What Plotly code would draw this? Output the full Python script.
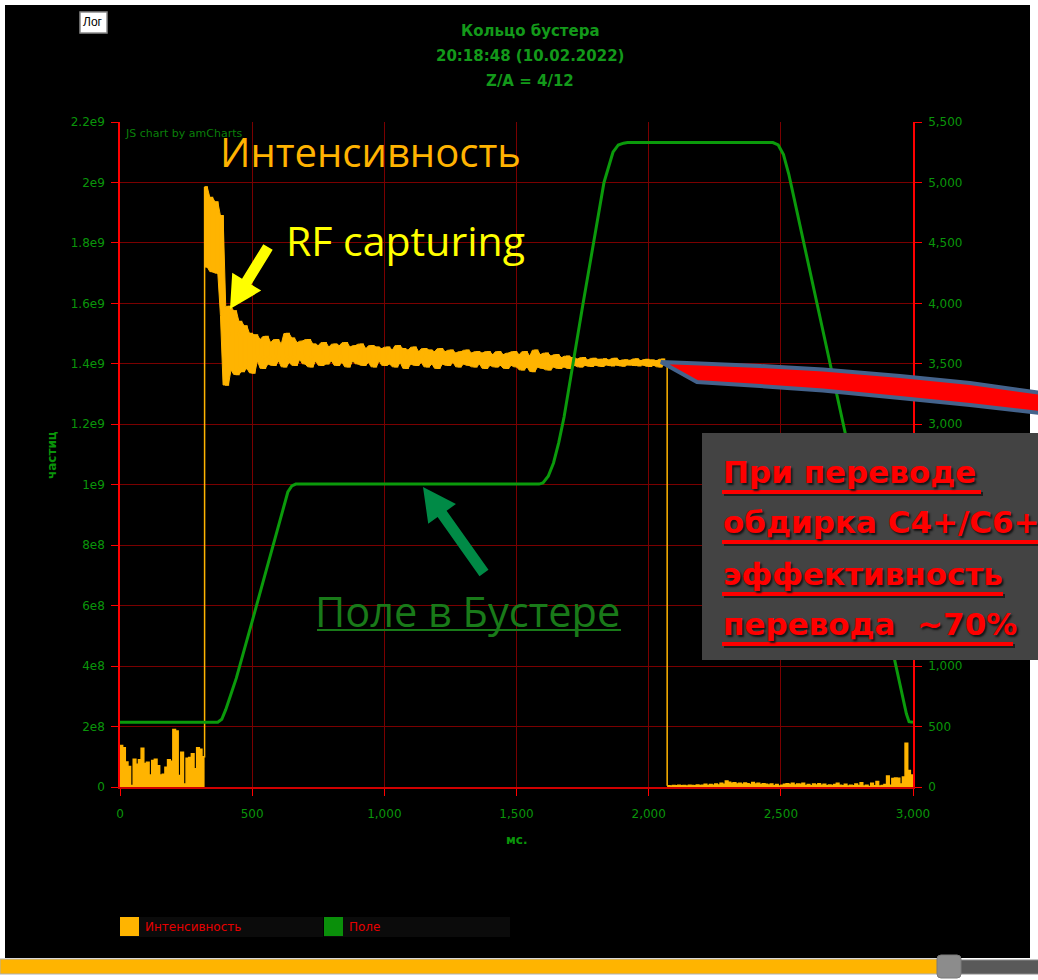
import plotly.graph_objects as go

# ---------------------------------------------------------------- data
# beam intensity, sampled every 10 ms, in millions of particles
time_ms = list(range(0, 3001, 10))
intensity_m = [
    # 0 .. 310 ms (before injection)
    137, 130, 83, 68, 5, 92, 75, 90, 128, 78, 82, 40, 88, 92, 70, 40,
    42, 65, 90, 85, 190, 185, 38, 115, 10, 95, 98, 110, 60, 130, 125, 100,
    # 320 .. 1000 ms
    1985, 1720, 1950, 1705, 1935, 1700, 1890, 1560, 1330, 1590, 1380, 1575,
    1365, 1540, 1375, 1525, 1385, 1500, 1370, 1495, 1410, 1480, 1385, 1490,
    1400, 1470, 1395, 1480, 1410, 1465, 1390, 1500, 1405, 1485, 1395, 1470,
    1415, 1475, 1400, 1480, 1390, 1465, 1410, 1460, 1395, 1470, 1400, 1455,
    1410, 1465, 1395, 1460, 1405, 1470, 1390, 1455, 1410, 1460, 1400, 1465,
    1395, 1450, 1405, 1460, 1390, 1455, 1410, 1450, 1395,
    # 1010 .. 1500 ms
    1455, 1400, 1445, 1390, 1460, 1405, 1450, 1385, 1445, 1400, 1455, 1395,
    1440, 1405, 1450, 1390, 1445, 1400, 1440, 1385, 1450, 1400, 1440, 1395,
    1445, 1405, 1435, 1390, 1440, 1400, 1445, 1395, 1435, 1390, 1440, 1400,
    1435, 1385, 1440, 1395, 1430, 1390, 1440, 1395, 1430, 1385, 1435, 1395,
    1440, 1390,
    # 1510 .. 1700 ms
    1430, 1380, 1440, 1390, 1425, 1375, 1445, 1390, 1430, 1385, 1435, 1380,
    1425, 1390, 1430, 1385, 1420, 1390, 1425, 1385,
    # 1710 .. 2060 ms
    1420, 1395, 1415, 1390, 1420, 1395, 1412, 1392, 1418, 1396, 1414, 1392,
    1416, 1397, 1412, 1394, 1418, 1396, 1410, 1393, 1413, 1397, 1411, 1395,
    1416, 1394, 1410, 1396, 1414, 1392, 1412, 1395, 1410, 1390, 1415, 1400,
    # 2070 .. 3000 ms (after extraction)
    4, 3, 5, 4, 6, 4, 5, 3, 6, 5, 4, 7, 5, 6, 9, 5, 8, 6, 10, 7, 12, 9,
    20, 16, 12, 14, 10, 12, 9, 13, 11, 8, 15, 10, 12, 8, 11, 9, 7, 10, 4,
    8, 3, 6, 9, 11, 8, 12, 7, 10, 9, 12, 5, 8, 4, 10, 7, 11, 6, 9, 4, 7,
    5, 8, 12, 6, 4, 9, 3, 6, 4, 10, 5, 14, 3, 6, 2, 12, 4, 18, 3, 5, 8,
    36, 6, 28, 30, 29, 10, 33, 145, 55, 40, 35,
]
assert len(time_ms) == len(intensity_m)

# booster magnetic field
field_t = [0, 370, 385, 400, 420, 440, 500, 550, 600, 620, 635, 650, 665,
           1585, 1600, 1620, 1640, 1660, 1680, 1752, 1831, 1865, 1885, 1905,
           1920, 2470, 2490, 2510, 2530, 2550, 2960, 2975, 2985, 3000]
field_v = [535, 535, 560, 640, 770, 900, 1370, 1760, 2150, 2320, 2440, 2490,
           2505, 2505, 2515, 2570, 2680, 2850, 3060, 4000, 5000, 5250, 5310,
           5325, 5330, 5330, 5310, 5230, 5070, 4870, 770, 605, 540, 535]

x_ticks = [0, 500, 1000, 1500, 2000, 2500, 3000]
left_ticks = [0, 2e8, 4e8, 6e8, 8e8, 1e9, 1.2e9, 1.4e9, 1.6e9, 1.8e9, 2e9, 2.2e9]
left_tick_text = ["0", "2e8", "4e8", "6e8", "8e8", "1e9", "1.2e9", "1.4e9",
                  "1.6e9", "1.8e9", "2e9", "2.2e9"]

INJ_END = time_ms.index(320)
EXT_START = time_ms.index(2070)
intensity = [v * 1e6 for v in intensity_m]

# the circulating-beam signal is drawn as the band it sweeps between
# neighbouring samples (running min / max over three samples)
band_t = time_ms[INJ_END:EXT_START]
band_v = intensity[INJ_END:EXT_START]
band_hi, band_lo = [], []
for i in range(len(band_v)):
    win = band_v[max(0, i - 1):i + 2]
    band_hi.append(max(win))
    band_lo.append(min(win))

# ---------------------------------------------------------------- geometry
W, H = 1038, 980
PL, PR, PT, PB = 120, 913, 122, 787


def px(x):
    return (x - PL) / (PR - PL)


def py(y):
    return (PB - y) / (PB - PT)


ORANGE = "#FFB400"
GREEN = "#0b9a0b"
TXT_GREEN = "#0a950a"
GRID = "#7a0000"
AXIS_RED = "#ff0000"
FONT = "DejaVu Sans"

fig = go.Figure()

# before injection
fig.add_trace(go.Scatter(
    x=time_ms[:INJ_END + 1], y=intensity[:INJ_END + 1], mode="lines",
    line=dict(color=ORANGE, width=1.5, shape="hv"), fill="tozeroy",
    fillcolor=ORANGE, name="Интенсивность", hoverinfo="skip"))
# circulating beam
fig.add_trace(go.Scatter(
    x=band_t, y=band_lo, mode="lines",
    line=dict(color=ORANGE, width=1),
    showlegend=False, hoverinfo="skip"))
fig.add_trace(go.Scatter(
    x=band_t, y=band_hi, mode="lines", fill="tonexty", fillcolor=ORANGE,
    line=dict(color=ORANGE, width=1),
    showlegend=False, hoverinfo="skip"))
fig.add_trace(go.Scatter(
    x=time_ms[INJ_END:EXT_START + 1], y=intensity[INJ_END:EXT_START + 1],
    mode="lines", line=dict(color=ORANGE, width=1.5, shape="hv"),
    name="Интенсивность", showlegend=False))
# after extraction
fig.add_trace(go.Scatter(
    x=time_ms[EXT_START:], y=intensity[EXT_START:], mode="lines",
    line=dict(color=ORANGE, width=1.5, shape="hv"), fill="tozeroy",
    fillcolor=ORANGE, showlegend=False, hoverinfo="skip"))
# field
fig.add_trace(go.Scatter(
    x=field_t, y=field_v, mode="lines", yaxis="y2",
    line=dict(color=GREEN, width=3), name="Поле"))

tick_font = dict(family=FONT, size=12, color=TXT_GREEN)
fig.update_layout(
    width=W, height=H,
    margin=dict(l=PL, r=W - PR, t=PT, b=H - PB),
    paper_bgcolor="white", plot_bgcolor="black", showlegend=False,
    xaxis=dict(range=[0, 3000], tickvals=x_ticks, tickformat=",d",
               showgrid=True, gridcolor=GRID, gridwidth=1, zeroline=False,
               showline=True, linecolor="#d00000", linewidth=2,
               ticks="outside", ticklen=7, tickcolor=AXIS_RED,
               tickfont=tick_font, ticklabelstandoff=8),
    yaxis=dict(range=[0, 2.2e9], tickvals=left_ticks, ticktext=left_tick_text,
               showgrid=True, gridcolor=GRID, gridwidth=1, zeroline=False,
               showline=True, linecolor=AXIS_RED, linewidth=1.5,
               ticks="outside", ticklen=7, tickcolor=AXIS_RED,
               tickfont=tick_font, ticklabelstandoff=4),
    yaxis2=dict(range=[0, 5500], dtick=500, tickformat=",d", overlaying="y",
                side="right", showgrid=False, zeroline=False,
                showline=True, linecolor=AXIS_RED, linewidth=1.5,
                ticks="outside", ticklen=7, tickcolor=AXIS_RED,
                tickfont=tick_font, ticklabelstandoff=4),
)

# ---------------------------------------------------------------- shapes
shapes = []


def rect(x0, y0, x1, y1, fill, line=None, lw=0, layer="above"):
    shapes.append(dict(type="rect", xref="paper", yref="paper",
                       x0=px(x0), x1=px(x1), y0=py(y1), y1=py(y0),
                       fillcolor=fill, layer=layer,
                       line=dict(color=line or fill, width=lw)))


def hline(x0, x1, y, color, lw):
    shapes.append(dict(type="line", xref="paper", yref="paper",
                       x0=px(x0), x1=px(x1), y0=py(y), y1=py(y),
                       line=dict(color=color, width=lw)))


def poly(points, fill, line=None, lw=0):
    d = "M " + " L ".join(f"{px(x):.5f},{py(y):.5f}" for x, y in points) + " Z"
    shapes.append(dict(type="path", xref="paper", yref="paper", path=d,
                       fillcolor=fill, line=dict(color=line or fill, width=lw)))


def arrow(tail, tip, shaft_w, head_len, head_w, color):
    dx, dy = tip[0] - tail[0], tip[1] - tail[1]
    ln = (dx * dx + dy * dy) ** 0.5
    ux, uy = dx / ln, dy / ln
    nx, ny = -uy, ux
    bx, by = tip[0] - ux * head_len, tip[1] - uy * head_len
    s, h = shaft_w / 2, head_w / 2
    pts = [(tail[0] + nx * s, tail[1] + ny * s),
           (bx + nx * s, by + ny * s),
           (bx + nx * h, by + ny * h),
           tip,
           (bx - nx * h, by - ny * h),
           (bx - nx * s, by - ny * s),
           (tail[0] - nx * s, tail[1] - ny * s)]
    poly(pts, color)


# dark page panel
rect(5, 5, 1030, 958, "black", layer="below")

# log-scale button
rect(80, 12, 107, 33, "white", line="#8a8a8a", lw=1.5)

# legend
rect(120, 917, 323, 937, "#0b0b0b")
rect(324, 917, 510, 937, "#0b0b0b")
rect(120, 917, 139, 936, ORANGE)
rect(324, 917, 343, 936, "#0a8f0a")

# range slider
rect(0, 959, 945, 974, ORANGE, line="#b0b0b0", lw=1)
rect(958, 960, 1040, 974, "#595959", line="#8a8a8a", lw=1)
shapes.append(dict(type="path", xref="paper", yref="paper", fillcolor="#8c8c8c",
                   line=dict(color="#7a7a7a", width=1),
                   path=("M {a},{b} L {c},{b} Q {d},{b} {d},{e} L {d},{f} "
                         "Q {d},{g} {c},{g} L {a},{g} Q {h},{g} {h},{f} "
                         "L {h},{e} Q {h},{b} {a},{b} Z").format(
                       a=px(941), c=px(957), d=px(961), h=px(937),
                       b=py(955), e=py(959), f=py(974), g=py(978))))

# pointer arrows
arrow((268, 247), (230, 309), 11, 32, 34, "#FFFF00")
arrow((484, 573), (423, 487), 11, 33, 34, "#008a46")

# red pointer from end of the stored beam
poly([(661, 362), (700, 363.5), (760, 366), (823, 369.5), (900, 376),
      (970, 383), (1048, 394), (1048, 414), (970, 405), (900, 398),
      (823, 390.5), (760, 386), (697, 382)],
     "#ff0000", line="#44638c", lw=4)

# comment box
rect(702, 433, 1040, 660, "#434343")
box_lines = [("При переводе", 483, 981), ("обдирка С4+/С6+", 533, 1040),
             ("эффективность", 585, 1003), ("перевода  ~70%", 635, 1013)]
for _, base, x_end in box_lines:
    hline(724, x_end + 2, base + 11, "#1e1e1e", 4)
    hline(722, x_end, base + 9, "#ff0000", 4)

# underline of the field caption
hline(317, 621, 630, "#197a19", 2)

fig.update_layout(shapes=shapes)

# ---------------------------------------------------------------- text
ann = []


def text(x, y, s, size, color, family=FONT, xanchor="left", yanchor="middle",
         angle=0, shadow=None):
    font = dict(family=family, size=size, color=color)
    if shadow:
        font["shadow"] = shadow
    ann.append(dict(xref="paper", yref="paper", x=px(x), y=py(y), text=s,
                    showarrow=False, xanchor=xanchor, yanchor=yanchor,
                    textangle=angle, borderpad=0, font=font))


title_green = "#13991a"
text(530, 31, "<b>Кольцо бустера</b>", 15, title_green, xanchor="center")
text(530, 56, "<b>20:18:48 (10.02.2022)</b>", 15, title_green, xanchor="center")
text(530, 81, "<b>Z/A = 4/12</b>", 15, title_green, xanchor="center")

text(93, 22, "Лог", 12, "black", family="Liberation Sans", xanchor="center")
text(124, 133, "JS chart by amCharts", 11, "#0a7f0a")

text(52, 455, "<b>частиц</b>", 12, TXT_GREEN, xanchor="center", angle=-90)
text(516, 840, "<b>мс.</b>", 12, TXT_GREEN, xanchor="center")

text(144, 927, "Интенсивность", 12, "#e60000")
text(348, 927, "Поле", 12, "#e60000")

text(219, 151, "Интенсивность", 40, "#FFB300", family="Open Sans")
text(285, 240, "RF capturing", 41, "#FFFF00", family="Open Sans")
text(314, 611, "Поле в Бустере", 41.5, "#197a19", family="Open Sans")

for s, base, _ in box_lines:
    text(722, base - 11, f"<b>{s}</b>", 31, "#ff0000",
         shadow="2px 2px 2px #151515")

fig.update_layout(annotations=ann)

fig.write_html("out.html")
